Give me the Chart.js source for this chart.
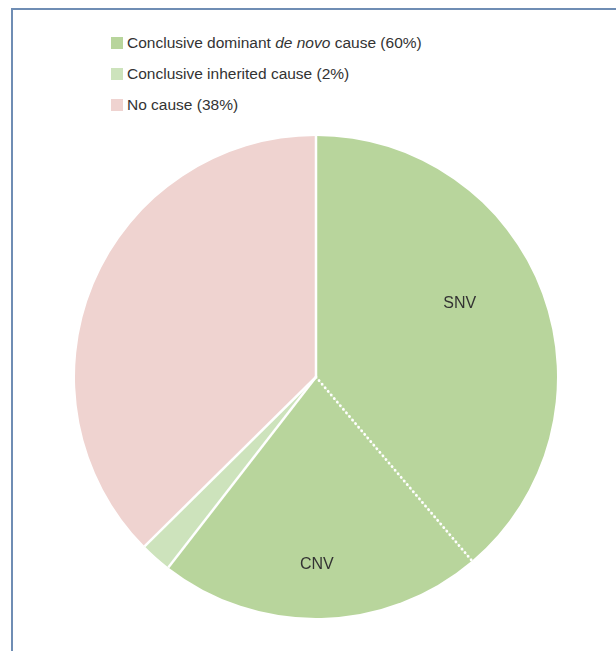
<!DOCTYPE html>
<html>
<head>
<meta charset="utf-8">
<script src="https://cdn.jsdelivr.net/npm/chart.js@4.4.1/dist/chart.umd.min.js"></script>
<style>
  html, body { margin: 0; padding: 0; background: #fff; }
  body { width: 616px; height: 651px; position: relative; overflow: hidden; font-family: "Liberation Sans", Arial, sans-serif; }
  #frame { position: absolute; left: 11px; top: 8px; right: -4px; bottom: -4px; border-left: 2px solid #6f8db4; border-top: 2px solid #6f8db4; }
  #legend { position: absolute; left: 111px; top: 27px; }
  .row { height: 31px; display: flex; align-items: center; font-size: 15.5px; color: #333; }
  .sw { width: 12px; height: 12px; margin-right: 4px; }
  #wrap { position: absolute; left: 71px; top: 132px; width: 490px; height: 490px; }
</style>
</head>
<body>
<div id="frame"></div>
<div id="legend"></div>
<div id="wrap"><canvas id="pie"></canvas></div>
<script>
// slices clockwise from 12 o'clock
const sliceLabels = ['SNV', 'CNV', 'Conclusive inherited cause', 'No cause'];
const sliceValues = [38.8, 21.7, 2.1, 37.4];
const sliceColors = ['#b8d59c', '#b8d59c', '#cde3bc', '#efd3d0'];
const sliceText = ['SNV', 'CNV', '', ''];
// label placement: fraction of radius, angle shift (deg)
const textPos = [[0.67, -7], [0.78, 1], [0, 0], [0, 0]];
// boundary after slice i: 'dot' or 'solid'
const edgeStyle = ['dot', 'solid', 'solid', 'solid'];

const legendItems = [
    { html: 'Conclusive dominant <i>de novo</i> cause (60%)', color: '#b8d59c' },
    { html: 'Conclusive inherited cause (2%)', color: '#cde3bc' },
    { html: 'No cause (38%)', color: '#efd3d0' }
];

const lg = document.getElementById('legend');
legendItems.forEach(it => {
    lg.innerHTML += `<div class="row"><span class="sw" style="background:${it.color}"></span><span>${it.html}</span></div>`;
});

const edgesPlugin = {
    id: 'edges',
    afterDatasetsDraw(chart) {
        const ctx = chart.ctx;
        const arcs = chart.getDatasetMeta(0).data;
        ctx.save();
        ctx.strokeStyle = '#fff';
        arcs.forEach((a, i) => {
            const r = a.outerRadius;
            const ang = a.endAngle;
            ctx.beginPath();
            if (edgeStyle[i] === 'dot') {
                ctx.lineWidth = 2.8;
                ctx.lineCap = 'round';
                ctx.setLineDash([0.1, 4.6]);
            } else {
                ctx.lineWidth = 2.5;
                ctx.lineCap = 'butt';
                ctx.setLineDash([]);
            }
            ctx.moveTo(a.x, a.y);
            ctx.lineTo(a.x + Math.cos(ang) * r, a.y + Math.sin(ang) * r);
            ctx.stroke();
        });
        ctx.setLineDash([]);
        ctx.fillStyle = '#333';
        ctx.font = '16px "Liberation Sans", Arial, sans-serif';
        ctx.textAlign = 'center';
        ctx.textBaseline = 'middle';
        arcs.forEach((a, i) => {
            if (!sliceText[i]) return;
            const mid = (a.startAngle + a.endAngle) / 2 + textPos[i][1] * Math.PI / 180;
            const rr = a.outerRadius * textPos[i][0];
            ctx.fillText(sliceText[i], a.x + Math.cos(mid) * rr, a.y + Math.sin(mid) * rr);
        });
        ctx.restore();
    }
};

new Chart(document.getElementById('pie'), {
    type: 'pie',
    data: {
        labels: sliceLabels,
        datasets: [{
            data: sliceValues,
            backgroundColor: sliceColors,
            borderWidth: 0
        }]
    },
    options: {
        responsive: true,
        maintainAspectRatio: false,
        animation: false,
        layout: { padding: 4 },
        plugins: { legend: { display: false }, tooltip: { enabled: false } }
    },
    plugins: [edgesPlugin]
});
</script>
</body>
</html>
